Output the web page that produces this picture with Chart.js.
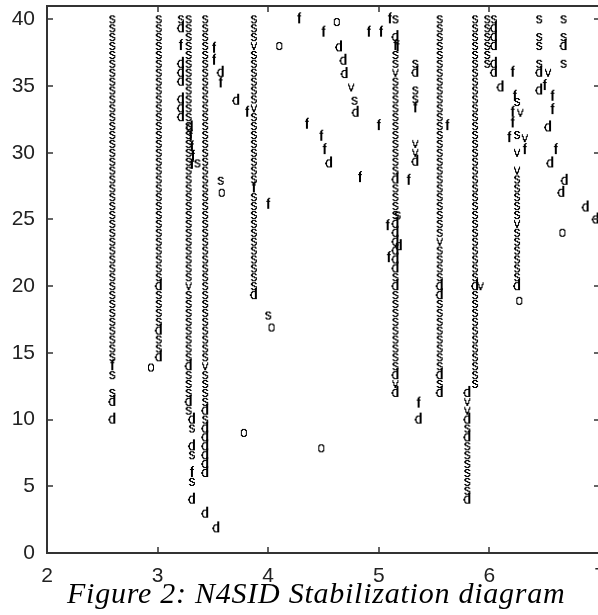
<!DOCTYPE html>
<html>
<head>
<meta charset="utf-8">
<script src="https://cdn.jsdelivr.net/npm/chart.js@4.4.1/dist/chart.umd.min.js"></script>
<style>
  html, body { margin: 0; padding: 0; background: #fff; }
  #wrap { position: relative; width: 598px; height: 615px; overflow: hidden; }
  #c { position: absolute; left: 0; top: 0; }
  #caption { position: absolute; left: 67px; top: 578px; font: italic 30px "Liberation Serif", "Times New Roman", serif; letter-spacing: 0.75px; line-height: 30px; color: #000; white-space: nowrap; }
</style>
</head>
<body>
<div id="wrap">
  <canvas id="c" width="601" height="615"></canvas>
  <div id="caption">Figure 2: N4SID Stabilization diagram</div>
</div>
<script>
// ---- data ----
const X_TICKS = [2, 3, 4, 5, 6, 7];
const Y_TICKS = [0, 5, 10, 15, 20, 25, 30, 35, 40];

// model-order levels (y), index k
const MODEL_ORDERS = [40, 39.33, 38.67, 38, 37.33, 36.67, 36, 35.33, 34.67, 34,
  33.33, 32.67, 32, 31.33, 30.67, 30, 29.33, 28.67, 28, 27.33,
  26.67, 26, 25.33, 24.67, 24, 23.33, 22.67, 22, 21.33, 20.67,
  20, 19.33, 18.67, 18, 17.33, 16.67, 16, 15.33, 14.67, 14,
  13.33, 12.67, 12, 11.33, 10.67, 10, 9.33, 8.67, 8, 7.33,
  6.67, 6, 5.33, 4.67, 4, 3.33, 2.67, 2];

// stabilised pole columns: frequency, first order index, letter per order ('.' = none, spaces only group)
const COLUMN_FREQ  = [2.59, 3.01, 3.21, 3.28, 3.31, 3.43, 3.87, 5.15, 5.33, 5.55, 5.87, 5.80, 5.98, 6.04, 6.25, 6.45, 6.67];
const COLUMN_START = [0, 0, 0, 0, 45, 0, 0, 0, 5, 0, 0, 42, 0, 0, 13, 0, 0];
const COLUMN_CODE  = [
  "ssssssssss ssssssssss ssssssssss sssssssssf s.sd.d",
  "ssssssssss ssssssssss ssssssssss dssssdssd",
  "sd.f.ddd.d dd",
  "ssssssssss ssssssssss ssssssssss vssssssssd sssds",
  "ds.ds.fs.d",
  "ssssssssss ssssssssss ssssssssss sssssssssv ssssdsdddd dd",
  "sssvssssss vssssssssf ssssssssss sd",
  "s.dfssvsss ssssssssds sssdddddds dsssssssss dvd",
  "sd.ssf...vvd",
  "ssssssssss ssssssssss sssssvssss ddssssssss dsd",
  "ssssssssss ssssssssss ssssssssss dsssssssss ss",
  "dvvdsdssssssd",
  "ssssss",
  "sddd.dd",
  "s.v.vsssssvssssssd",
  "s.ss.sd.d",
  "s.sd.s"
];

// scattered poles [frequency, order]
const EXTRA_S = [[3.57, 27.9], [3.36, 29.2], [4.0, 17.8], [4.78, 33.9], [5.17, 25.3], [6.25, 33.8]];
const EXTRA_F = [[3.30, 31.2], [3.31, 30.4], [3.32, 29.7], [3.31, 29.1],
  [3.51, 37.8], [3.51, 36.9], [3.57, 35.2], [3.81, 33.0], [4.0, 26.1],
  [4.28, 40.0], [4.5, 39.0], [4.35, 32.1], [4.48, 31.2], [4.51, 30.2], [4.83, 28.1], [5.0, 32.0], [4.91, 39.0], [5.02, 39.0],
  [5.1, 40.0], [5.17, 37.9], [5.27, 27.9], [5.08, 24.5], [5.09, 22.1], [5.36, 11.2],
  [5.62, 32.0],
  [6.21, 36.0], [6.23, 34.2], [6.21, 33.0], [6.21, 32.2], [6.18, 31.1], [6.32, 30.2],
  [6.5, 35.0], [6.57, 34.2], [6.57, 33.2], [6.6, 30.2]];
const EXTRA_D = [[3.29, 31.9], [3.57, 36.0], [3.43, 2.95], [3.53, 1.85], [3.71, 33.9],
  [4.64, 37.9], [4.68, 36.9], [4.69, 35.9], [4.79, 33.0], [4.55, 29.2],
  [5.18, 23.0], [5.36, 10.0], [6.1, 34.9],
  [6.53, 31.9], [6.55, 29.2], [6.68, 27.9], [6.65, 27.0], [6.87, 25.9], [6.96, 25.0]];
const EXTRA_V = [[4.75, 34.9], [5.92, 20.0], [6.28, 33.0], [6.32, 31.1], [6.53, 36.0]];
const EXTRA_O = [[2.94, 13.9], [3.58, 27.0], [4.1, 38.0], [4.03, 16.9], [4.62, 39.8], [3.78, 9.0], [4.48, 7.85], [6.27, 18.9], [6.66, 24.0]];

const LETTERS = ['s', 'f', 'd', 'v', 'o'];

// ---- build point lists ----
const points = { s: [], f: [], d: [], v: [], o: [] };
COLUMN_CODE.forEach((code, ci) => {
  const letters = code.replace(/ /g, '');
  for (let i = 0; i < letters.length; i++) {
    const ch = letters[i];
    if (points[ch]) points[ch].push({ x: COLUMN_FREQ[ci], y: MODEL_ORDERS[COLUMN_START[ci] + i] });
  }
});
[[EXTRA_S, 's'], [EXTRA_F, 'f'], [EXTRA_D, 'd'], [EXTRA_V, 'v'], [EXTRA_O, 'o']].forEach(([arr, ch]) => {
  arr.forEach(p => points[ch].push({ x: p[0], y: p[1] }));
});

// crisp, bitmap-like letter markers
function letterCanvas(ch) {
  const c = document.createElement('canvas');
  c.width = 14; c.height = 16;
  const g = c.getContext('2d');
  g.font = '14px "Liberation Sans", Arial, sans-serif';
  g.fillStyle = '#000';
  g.textAlign = 'center';
  g.textBaseline = 'alphabetic';
  g.fillText(ch, 7, 12);
  const img = g.getImageData(0, 0, c.width, c.height);
  const d = img.data;
  for (let i = 0; i < d.length; i += 4) {
    const on = d[i + 3] > 90;
    d[i] = 0; d[i + 1] = 0; d[i + 2] = 0; d[i + 3] = on ? 255 : 0;
  }
  g.putImageData(img, 0, 0);
  return c;
}

const framePlugin = {
  id: 'frame',
  afterDraw(chart) {
    const { ctx, chartArea: a } = chart;
    const xs = chart.scales.x, ys = chart.scales.y;
    ctx.save();
    ctx.strokeStyle = '#333';
    ctx.lineWidth = 2;
    ctx.strokeRect(a.left, a.top, a.right - a.left, a.bottom - a.top);
    ctx.lineWidth = 1.5;
    ctx.beginPath();
    xs.ticks.forEach(t => {
      const px = Math.round(xs.getPixelForValue(t.value));
      ctx.moveTo(px, a.bottom); ctx.lineTo(px, a.bottom - 6);
      ctx.moveTo(px, a.top); ctx.lineTo(px, a.top + 6);
    });
    ys.ticks.forEach(t => {
      const py = Math.round(ys.getPixelForValue(t.value));
      ctx.moveTo(a.left, py); ctx.lineTo(a.left + 6, py);
      ctx.moveTo(a.right, py); ctx.lineTo(a.right - 6, py);
    });
    ctx.stroke();
    ctx.restore();
  }
};

const tickFont = { family: '"Liberation Sans", Arial, sans-serif', size: 21 };
function zeroPad(s) { s.paddingTop = 0; s.paddingBottom = 0; s.paddingLeft = 0; s.paddingRight = 0; }

new Chart(document.getElementById('c'), {
  type: 'scatter',
  data: {
    datasets: LETTERS.map(ch => ({
      label: ch,
      data: points[ch],
      pointStyle: letterCanvas(ch),
      pointRadius: 4,
      showLine: false
    }))
  },
  options: {
    responsive: false,
    animation: false,
    events: [],
    layout: { padding: { top: 6, right: 1, left: 0, bottom: 0 }, autoPadding: false },
    plugins: { legend: { display: false }, tooltip: { enabled: false }, title: { display: false } },
    scales: {
      x: {
        type: 'linear', min: 2, max: 7,
        afterBuildTicks: s => { s.ticks = X_TICKS.map(v => ({ value: v })); },
        afterFit: s => { s.height = 62; zeroPad(s); },
        grid: { display: false, drawTicks: false },
        border: { display: false },
        ticks: { padding: 11, font: tickFont, color: '#222', maxRotation: 0, autoSkip: false }
      },
      y: {
        type: 'linear', min: 0, max: 41,
        afterBuildTicks: s => { s.ticks = Y_TICKS.map(v => ({ value: v })); },
        afterFit: s => { s.width = 47; zeroPad(s); },
        grid: { display: false, drawTicks: false },
        border: { display: false },
        ticks: { padding: 12, font: tickFont, color: '#222', autoSkip: false }
      }
    }
  },
  plugins: [framePlugin]
});
</script>
</body>
</html>
